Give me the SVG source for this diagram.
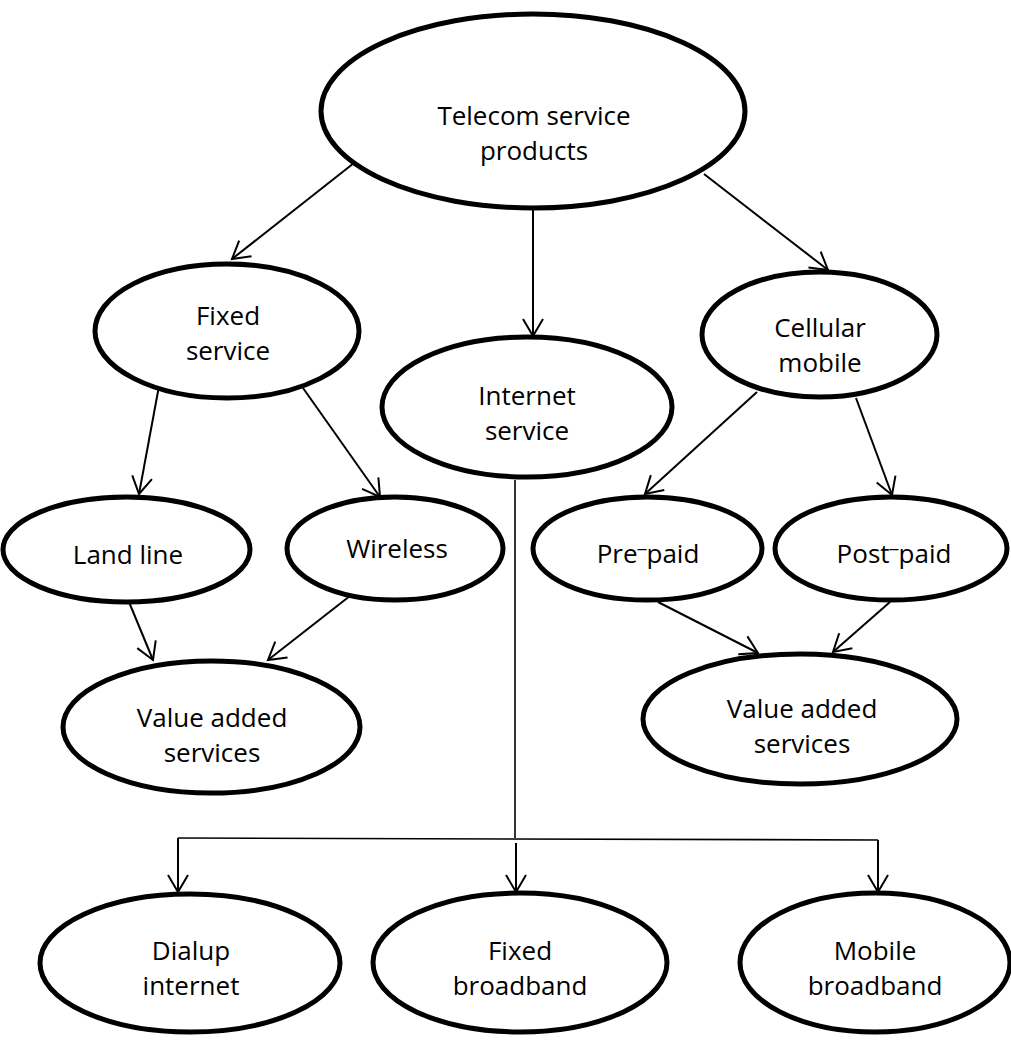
<svg xmlns="http://www.w3.org/2000/svg" width="1011" height="1051" viewBox="0 0 1011 1051">
<style>
.node ellipse{fill:#fff;stroke:#000;stroke-width:5}
.node text{font-family:"Open Sans","Noto Sans","Liberation Sans",sans-serif;font-size:26px;fill:#000;text-anchor:middle}
.node .mac{font-size:18px}
.conn line{stroke:#000;stroke-width:2;fill:none}
.conn .arr{marker-end:url(#ah)}
.conn .thin{stroke-width:1.6}
</style>
<defs>
<marker id="ah" markerUnits="userSpaceOnUse" markerWidth="30" markerHeight="30" viewBox="-20 -15 25 30" refX="0" refY="0" orient="auto">
<path d="M-17,-10 L0,0 L-17,10" fill="none" stroke="#000" stroke-width="2"/>
</marker>
</defs>
<rect width="1011" height="1051" fill="#fff"/>
<g class="conn" id="connectors">
<line class="arr" x1="354" y1="163" x2="232" y2="259"/>
<line class="arr" x1="533" y1="210" x2="533" y2="336"/>
<line class="arr" x1="704" y1="174" x2="828" y2="270"/>
<line class="arr" x1="159" y1="386" x2="139" y2="494"/>
<line class="arr" x1="303" y1="388" x2="380" y2="497"/>
<line class="arr" x1="757" y1="392" x2="645" y2="494"/>
<line class="arr" x1="856" y1="398" x2="892" y2="495"/>
<line class="arr" x1="129" y1="602" x2="153" y2="660"/>
<line class="arr" x1="355" y1="592" x2="268" y2="660"/>
<line class="arr" x1="658" y1="602" x2="758" y2="653"/>
<line class="arr" x1="890" y1="602" x2="833" y2="652"/>
<line class="thin" x1="515" y1="480" x2="515" y2="838"/>
<line class="thin" x1="178" y1="838" x2="878" y2="840"/>
<line class="arr" x1="178" y1="838" x2="178" y2="892"/>
<line class="arr" x1="516" y1="843" x2="516" y2="892"/>
<line class="arr" x1="878" y1="840" x2="878" y2="892"/>
</g>
<g class="node" id="telecom">
<ellipse cx="533" cy="111" rx="212" ry="97"/>
<text x="534" y="125">Telecom service</text>
<text x="534" y="160">products</text>
</g>
<g class="node" id="fixed-service">
<ellipse cx="227" cy="331" rx="132" ry="67"/>
<text x="228" y="325">Fixed</text>
<text x="228" y="360">service</text>
</g>
<g class="node" id="internet-service">
<ellipse cx="527" cy="407" rx="145" ry="70"/>
<text x="527" y="405">Internet</text>
<text x="527" y="440">service</text>
</g>
<g class="node" id="cellular-mobile">
<ellipse cx="819.5" cy="334.5" rx="117.5" ry="62.5"/>
<text x="820" y="337">Cellular</text>
<text x="820" y="372">mobile</text>
</g>
<g class="node" id="land-line">
<ellipse cx="126.5" cy="549.5" rx="123.5" ry="52.5"/>
<text x="128" y="564">Land line</text>
</g>
<g class="node" id="wireless">
<ellipse cx="395" cy="548.5" rx="108" ry="51.5"/>
<text x="397" y="558">Wireless</text>
</g>
<g class="node" id="pre-paid">
<ellipse cx="647.5" cy="548.5" rx="114.5" ry="51.5"/>
<text x="648" y="563">Pre<tspan class="mac" dy="1">¯</tspan><tspan dy="-1">paid</tspan></text>
</g>
<g class="node" id="post-paid">
<ellipse cx="891" cy="548.5" rx="116" ry="51.5"/>
<text x="894" y="563">Post<tspan class="mac" dy="1">¯</tspan><tspan dy="-1">paid</tspan></text>
</g>
<g class="node" id="vas-left">
<ellipse cx="211.5" cy="727" rx="148.5" ry="66"/>
<text x="212" y="727">Value added</text>
<text x="212" y="762">services</text>
</g>
<g class="node" id="vas-right">
<ellipse cx="800" cy="719" rx="157" ry="65"/>
<text x="802" y="718">Value added</text>
<text x="802" y="753">services</text>
</g>
<g class="node" id="dialup">
<ellipse cx="190" cy="963" rx="150" ry="69"/>
<text x="191" y="960">Dialup</text>
<text x="191" y="995">internet</text>
</g>
<g class="node" id="fixed-broadband">
<ellipse cx="520" cy="962.5" rx="147" ry="69.5"/>
<text x="520" y="960">Fixed</text>
<text x="520" y="995">broadband</text>
</g>
<g class="node" id="mobile-broadband">
<ellipse cx="875" cy="962.5" rx="135" ry="69.5"/>
<text x="875" y="960">Mobile</text>
<text x="875" y="995">broadband</text>
</g>
</svg>
